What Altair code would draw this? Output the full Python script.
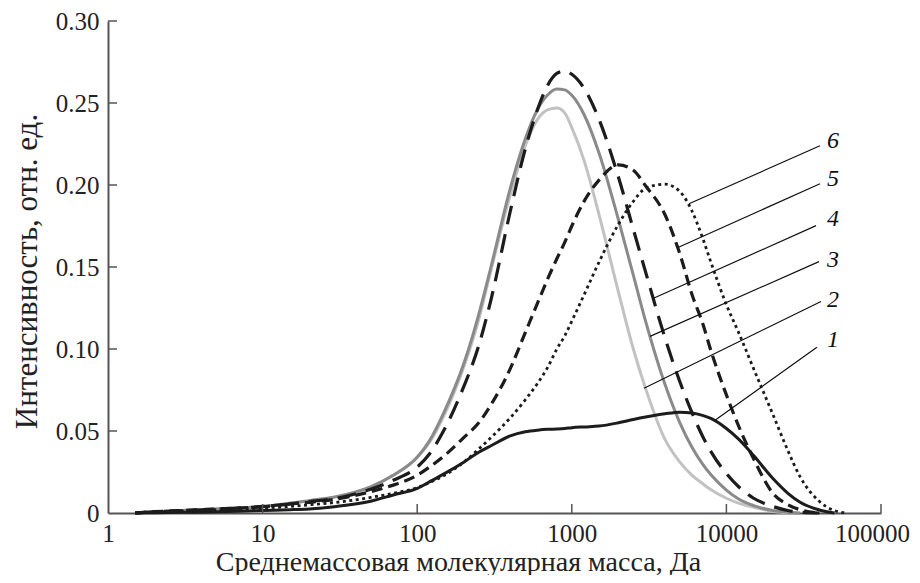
import altair as alt
import pandas as pd

masses = [1.5, 2, 3, 5, 7, 10, 15, 20, 30, 50, 70, 100, 120, 150, 200, 250, 300, 400, 500,
          600, 700, 800, 900, 1000, 1200, 1500, 2000, 2500, 3000, 4000, 5000, 6000, 7000,
          8000, 10000, 12000, 15000, 20000, 25000, 30000, 40000, 50000, 60000]

curve1 = [0, .0002, .0004, .0007, .001, .0015, .002, .0025, .004, .0072, .011, .015, .019, .024,
          .031, .037, .041, .047, .0495, .0505, .051, .0512, .0515, .052, .0525, .053, .055, .057,
          .0585, .0605, .0615, .061, .0595, .0575, .0515, .045, .035, .021, .012, .0065, .0018, 0, None]
curve2 = [0, .0008, .0015, .0025, .003, .004, .006, .0075, .010, .016, .023, .034, .043, .060, .089,
          .118, .148, .194, .224, .240, .246, .247, .244, .235, .215, .182, .135, .100, .076, .045,
          .031, .023, .018, .014, .009, .006, .0035, .001, 0, None, None, None, None]
curve3 = [0, .0008, .0015, .0025, .003, .004, .006, .0075, .010, .016, .023, .034, .044, .062, .091,
          .121, .150, .198, .228, .246, .255, .2585, .258, .2547, .243, .2195, .179, .145, .117,
          .0786, .055, .040, .030, .023, .014, .0085, .0045, .0015, .0004, 0, None, None, None]
curve4 = [0, .0007, .0013, .0022, .003, .0038, .0055, .007, .009, .0145, .020, .028, .036, .051,
          .077, .102, .130, .184, .222, .246, .261, .268, .2695, .2675, .259, .240, .205, .173, .147,
          .107, .080, .061, .047, .037, .024, .016, .009, .004, .0015, .0005, 0, None, None]
curve5 = [0, .0008, .0015, .0025, .003, .004, .0055, .0065, .0085, .013, .017, .023, .028, .035,
          .046, .055, .066, .088, .110, .128, .143, .155, .165, .175, .190, .203, .2123, .209, .1995,
          .182, .158, .133, .116, .098, .072, .053, .033, .012, .005, .002, 0, None, None]
curve6 = [0, .0005, .001, .002, .0025, .003, .004, .005, .0065, .0095, .012, .0155, .0185, .023,
          .031, .039, .046, .058, .069, .079, .089, .100, .108, .117, .133, .153, .176, .190, .198,
          .2005, .196, .184, .168, .152, .127, .110, .088, .060, .038, .022, .007, .0015, 0]

series_names = ["1", "2", "3", "4", "5", "6"]
all_curves = [curve1, curve2, curve3, curve4, curve5, curve6]

# label callouts
label_text = ["1", "2", "3", "4", "5", "6"]
label_x = [48950, 48950, 48950, 48950, 48950, 48950]
label_y = [0.1053, 0.1296, 0.1540, 0.1795, 0.2038, 0.2270]
lead_start_x = [38500, 40900, 39700, 38000, 40300, 40300]
lead_start_y = [0.1010, 0.1290, 0.1533, 0.1752, 0.2008, 0.2239]
lead_end_x = [8440, 2931, 3206, 3350, 4864, 5730]
lead_end_y = [0.0566, 0.0761, 0.1077, 0.1308, 0.1619, 0.1886]

x_ticks = [1, 10, 100, 1000, 10000, 100000]
x_inner_ticks = [10, 100, 1000, 10000, 100000]
y_ticks = [0, 0.05, 0.10, 0.15, 0.20, 0.25, 0.30]
y_inner_ticks = [0.05, 0.10, 0.15, 0.20, 0.25, 0.30]

W, H = 773, 492
FONT = "Liberation Serif"

rows = []
for name, vals in zip(series_names, all_curves):
    for m, v in zip(masses, vals):
        if v is not None:
            rows.append({"s": name, "M": m, "I": v})
df = pd.DataFrame(rows)

xenc = alt.X("M:Q", scale=alt.Scale(type="log", domain=[1, 100000]),
             axis=alt.Axis(values=x_ticks, format="d", ticks=False, labelPadding=8,
                           labelFlush=False,
                           labelOffset={"condition": {"test": "datum.value == 100000", "value": -9},
                                        "value": 0},
                           title="Среднемассовая молекулярная масса, Да", titleFontSize=28,
                           titleX=350, titleY=57, titleAlign="center",
                           titleBaseline="alphabetic"))
yenc = alt.Y("I:Q", scale=alt.Scale(domain=[0, 0.30]),
             axis=alt.Axis(values=y_ticks, labelExpr="datum.value == 0 ? '0' : format(datum.value, '.2f')",
                           ticks=False, labelPadding=9,
                           title="Интенсивность, отн. ед.", titleFontSize=31, titleX=-81, titleY=250,
                           titleAngle=270, titleAlign="center", titleBaseline="middle"))

styles = {
    "1": dict(color="#1c1c1c", strokeWidth=3),
    "2": dict(color="#c2c2c2", strokeWidth=3),
    "3": dict(color="#8a8a8a", strokeWidth=3),
    "4": dict(color="#1c1c1c", strokeWidth=3.2, strokeDash=[19, 10]),
    "5": dict(color="#1c1c1c", strokeWidth=3.2, strokeDash=[11, 6]),
    "6": dict(color="#1c1c1c", strokeWidth=2.8, strokeDash=[3, 3.5]),
}

layers = []
for name in ["2", "3", "1", "6", "5", "4"]:
    layers.append(
        alt.Chart(df[df.s == name]).mark_line(interpolate="monotone", **styles[name])
        .encode(x=xenc, y=yenc)
    )

lead_df = pd.DataFrame({"M": lead_start_x, "I": lead_start_y, "M2": lead_end_x, "I2": lead_end_y})
leaders = alt.Chart(lead_df).mark_rule(color="#111", strokeWidth=1.2).encode(
    x=xenc, y=yenc, x2="M2:Q", y2="I2:Q")

lab_df = pd.DataFrame({"M": label_x, "I": label_y, "t": label_text})
labels = alt.Chart(lab_df).mark_text(font=FONT, fontSize=24, fontStyle="italic", color="#111",
                                     align="center", baseline="middle").encode(
    x=xenc, y=yenc, text="t:N")

xt_df = pd.DataFrame({"M": x_inner_ticks})
xticks = alt.Chart(xt_df).mark_rule(color="#555", strokeWidth=1.5).encode(
    x=xenc, y=alt.value(H), y2=alt.value(H - 9))
yt_df = pd.DataFrame({"I": y_inner_ticks})
yticks = alt.Chart(yt_df).mark_rule(color="#555", strokeWidth=1.5).encode(
    y=yenc, x=alt.value(0), x2=alt.value(9))

chart = alt.layer(*layers, leaders, labels, xticks, yticks).properties(
    width=W, height=H,
    autosize=alt.AutoSizeParams(type="none"),
    padding={"left": 100, "top": 13, "right": 31, "bottom": 62},
).configure_view(stroke=None).configure_axis(
    grid=False, domainColor="#555", domainWidth=2,
    labelFont=FONT, labelFontSize=25, labelColor="#222",
    titleFont=FONT, titleColor="#222", titleFontWeight="normal",
).configure_axisX(labelAngle=0)

chart.save("out.html", embed_options={"renderer": "svg", "actions": False})
